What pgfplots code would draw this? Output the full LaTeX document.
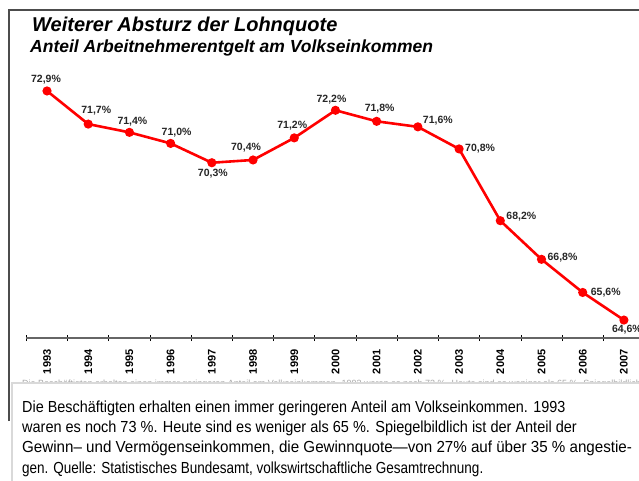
\documentclass[border=0pt]{standalone}
\usepackage{fontspec}
\setmainfont{Liberation Sans}
\usepackage{pgfplots}
\usepackage{pgfplotstable}
\pgfplotsset{compat=1.18}
\pgfplotstableread{
x    y    dx  dy
1993 72.9 -1  11
1994 71.7  8  13
1995 71.4  3  11
1996 71.0  6  11
1997 70.3  1 -11
1998 70.4 -7  12
1999 71.2 -2  12
2000 72.2 -4  11
2001 71.8  3  13
2002 71.6 20   6
2003 70.8 21   0
2004 68.2 21   4
2005 66.8 21   2
2006 65.6 23   0
2007 64.6  3 -10
}\lohnquote
\begin{document}
\begin{tikzpicture}
\path[use as bounding box] (0pt,0pt) rectangle (639pt,480pt);
\draw[black!70, line width=1.3pt] (9pt,59pt) -- (9pt,470pt) -- (641pt,470pt);
\node[anchor=base west, inner sep=0, font=\fontsize{20}{24}\selectfont\bfseries\itshape] at (32pt,448pt) {Weiterer Absturz der Lohnquote};
\node[anchor=base west, inner sep=0, font=\fontsize{17.5}{21}\selectfont\bfseries\itshape] at (30pt,427pt) {Anteil Arbeitnehmerentgelt am Volkseinkommen};
\begin{axis}[
  at={(26.4pt,142pt)}, anchor=south west,
  scale only axis, width=614pt, height=277.4pt,
  xmin=1992.5, xmax=2007.4, ymin=63.95, ymax=74,
  axis x line*=bottom, axis y line=none,
  x axis line style={black!60, line width=1.3pt},
  xtick={1993,1994,1995,1996,1997,1998,1999,2000,2001,2002,2003,2004,2005,2006,2007},
  xticklabels={1993,1994,1995,1996,1997,1998,1999,2000,2001,2002,2003,2004,2005,2006,2007},
  major tick length=0pt,
  minor xtick={1992.5,1993.5,...,2006.5},
  minor tick length=6pt,
  tick align=center,
  minor tick style={black, line width=0.8pt},
  xticklabel style={rotate=90, anchor=east, font=\fontsize{11}{13}\selectfont\bfseries},
  xticklabel shift=8pt,
  clip=false,
]
\addplot[red, line width=2.6pt, mark=*, mark size=3.2pt,
  point meta=y,
  visualization depends on={\thisrow{dx}\as\dx},
  visualization depends on={\thisrow{dy}\as\dy},
  nodes near coords={\pgfmathprintnumber[fixed,fixed zerofill,precision=1,use comma,assume math mode=true]{\pgfplotspointmeta}\%},
  nodes near coords style={anchor=center, xshift=\dx pt, yshift=\dy pt, text=black!85, font=\fontsize{10.5}{12}\selectfont\bfseries},
] table[x=x, y=y] {\lohnquote};
\end{axis}
\node[anchor=base west, inner sep=0, text=gray!70, font=\fontsize{9}{10}\selectfont] at (22pt,94pt) {Die Beschäftigten erhalten einen immer geringeren Anteil am Volkseinkommen. 1993 waren es noch 73 \%. Heute sind es weniger als 65 \%. Spiegelbildlich ist der};
\draw[gray!30, line width=2pt, fill=white] (12pt,97pt) rectangle (650pt,-10pt);
\begin{scope}[every node/.style={anchor=base west, inner sep=0, font=\fontsize{16}{20}\selectfont}]
\node at (22pt,68pt) {\scalebox{0.90}[1]{Die Beschäftigten erhalten einen immer geringeren Anteil am Volkseinkommen. 1993}};
\node at (22pt,48pt) {\scalebox{0.906}[1]{waren es noch 73 \%. Heute sind es weniger als 65 \%. Spiegelbildlich ist der Anteil der}};
\node at (22pt,27.5pt) {\scalebox{0.947}[1]{Gewinn– und Vermögenseinkommen, die Gewinnquote—von 27\% auf über 35 \% angestie-}};
\node at (22pt,7pt) {\scalebox{0.844}[1]{gen. Quelle: Statistisches Bundesamt, volkswirtschaftliche Gesamtrechnung.}};
\end{scope}
\end{tikzpicture}
\end{document}
